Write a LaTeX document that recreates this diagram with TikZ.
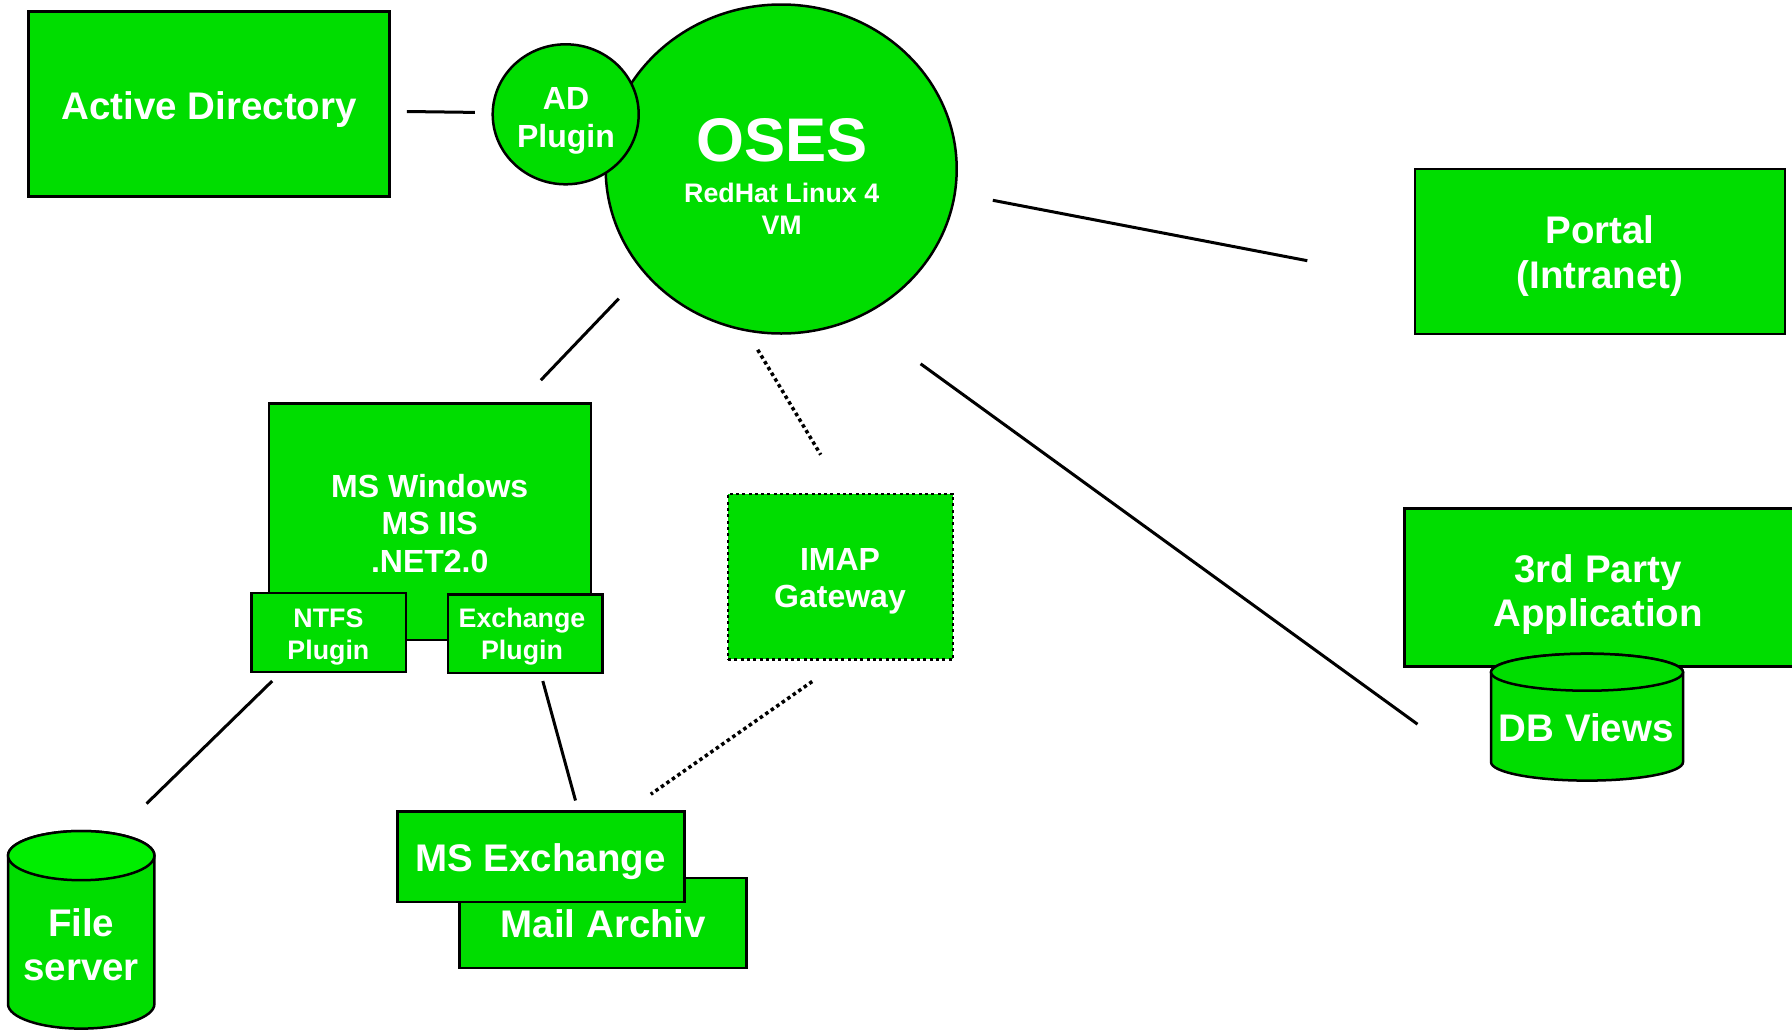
\documentclass[tikz,border=0pt]{standalone}
\usepackage{fontspec}
\setmainfont{Liberation Sans}
\usetikzlibrary{shapes.geometric}
\definecolor{mygreen}{RGB}{0,221,0}
\definecolor{topgreen}{RGB}{0,238,0}
\newcommand\fL{\bfseries\fontsize{38.5bp}{44.6bp}\selectfont}
\newcommand\fM{\bfseries\fontsize{32bp}{37.7bp}\selectfont}
\newcommand\fS{\bfseries\fontsize{26.8bp}{32bp}\selectfont}
\newcommand\fXL{\bfseries\fontsize{61.6bp}{70bp}\selectfont}
\tikzset{
  box/.style={draw=black, line width=2.5bp, fill=mygreen, rectangle, inner sep=0pt},
  dotbox/.style={box, dash pattern=on 3bp off 3.3bp},
  oval/.style={draw=black, line width=2.5bp, fill=mygreen, ellipse, inner sep=0pt},
  txt/.style={inner sep=0pt, align=center, text=white},
  conn/.style={draw=black, line width=3bp},
  dconn/.style={draw=black, line width=3.5bp, dash pattern=on 3.5bp off 3.2bp},
  cyl/.style={draw=black, line width=2.5bp, fill=mygreen},
}
\begin{document}
\begin{tikzpicture}[x=1bp,y=-1bp]
\useasboundingbox (0,0) rectangle (1792,1030);

% Active Directory
\node[box, minimum width=361bp, minimum height=185bp] (ad) at (209.2,104) {};
\node[txt, font=\fL] (adtxt) at (209.2,110) {Active Directory};

% OSES
\node[oval, minimum width=351bp, minimum height=329bp] (oses) at (781.2,169) {};
\node[txt, font=\fS] (osestxt) at (781.7,176.5) {{\fXL OSES}\\[9bp]RedHat Linux 4\\VM};

% AD Plugin
\node[oval, minimum width=146bp, minimum height=140bp] (adp) at (565.7,114.3) {};
\node[txt, font=\fM] (adptxt) at (566,120.8) {AD\\Plugin};

% Portal
\node[box, minimum width=370bp, minimum height=164.7bp] (portal) at (1600,251.4) {};
\node[txt, font=\fL] (portaltxt) at (1600,256) {Portal\\(Intranet)};

% 3rd Party Application
\node[box, minimum width=395bp, minimum height=157.7bp] (app) at (1602,587.5) {};
\node[txt, font=\fL] (apptxt) at (1598,594.6) {3rd Party\\Application};

% DB Views cylinder
\path[cyl] (1491,762.1) arc[start angle=180, end angle=0, x radius=96, y radius=18.5]
  -- (1683,672.2) arc[start angle=0, end angle=-180, x radius=96, y radius=18.5] -- cycle;
\draw[cyl] (1587,672.2) ellipse [x radius=96, y radius=18.5];
\node[txt, font=\fL] (db) at (1586.3,728) {DB Views};

% MS Windows
\node[box, minimum width=322bp, minimum height=236.6bp] (win) at (429.8,521.7) {};
\node[txt, font=\fM] (wintxt) at (429.7,523.4) {MS Windows\\MS IIS\\.NET2.0};

% Plugins
\node[box, minimum width=154.3bp, minimum height=79bp] (ntfs) at (328.6,632.5) {};
\node[txt, font=\fS] (ntfstxt) at (328.4,637.1) {NTFS\\Plugin};
\node[box, minimum width=154.3bp, minimum height=78.7bp] (exp) at (525.2,633.7) {};
\node[txt, font=\fS] (exptxt) at (522,637.1) {Exchange\\Plugin};

% IMAP Gateway
\node[dotbox, minimum width=225bp, minimum height=165.7bp] (imap) at (840.5,576.6) {};
\node[txt, font=\fM] (imaptxt) at (840,581.2) {IMAP\\Gateway};

% Mail Archiv / MS Exchange
\node[box, minimum width=287bp, minimum height=90.3bp] (arch) at (602.9,922.9) {};
\node[txt, font=\fL] (archtxt) at (603.4,923.4) {Mail Archiv};
\node[box, minimum width=287bp, minimum height=90.3bp] (msx) at (541.2,856.6) {};
\node[txt, font=\fL] (msxtxt) at (540.6,861.2) {MS Exchange};

% File server cylinder
\path[cyl] (8,1004) arc[start angle=180, end angle=0, x radius=73.2, y radius=24.6]
  -- (154.4,855.6) arc[start angle=0, end angle=-180, x radius=73.2, y radius=24.6] -- cycle;
\draw[cyl, fill=topgreen] (81.2,855.6) ellipse [x radius=73.2, y radius=24.6];
\node[txt, font=\fL] (fs) at (81.2,944.6) {File\\server};

% connector end points
\coordinate (ad1) at (406.9,111.5); \coordinate (ad2) at (474.8,112.4);
\coordinate (p1) at (992.8,200.3); \coordinate (p2) at (1307.3,260.7);
\coordinate (w1) at (618.8,298.6); \coordinate (w2) at (540.8,380.2);
\coordinate (i1) at (757.7,349.8); \coordinate (i2) at (820.7,454.7);
\coordinate (d1) at (920.6,363.8); \coordinate (d2) at (1417.5,724.2);
\coordinate (f1) at (272.2,681); \coordinate (f2) at (146.6,803.6);
\coordinate (e1) at (542.8,681); \coordinate (e2) at (575.5,800.5);
\coordinate (m1) at (812.2,681.5); \coordinate (m2) at (650.8,794.2);

\draw[conn] (ad1) -- (ad2);
\draw[conn] (p1) -- (p2);
\draw[conn] (w1) -- (w2);
\draw[dconn] (i1) -- (i2);
\draw[conn] (d1) -- (d2);
\draw[conn] (f1) -- (f2);
\draw[conn] (e1) -- (e2);
\draw[dconn] (m1) -- (m2);
\end{tikzpicture}
\end{document}
